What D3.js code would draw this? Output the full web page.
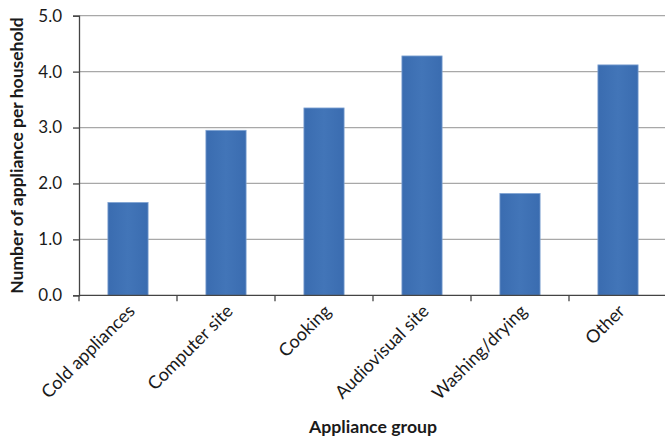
<!DOCTYPE html>
<html>
<head>
<meta charset="utf-8">
<script src="https://cdn.jsdelivr.net/npm/d3@7"></script>
<style>
  html, body { margin: 0; padding: 0; background: #fff; }
  svg { display: block; }
  text { font-family: Lato, "Open Sans", sans-serif; fill: #1a1a1a; }
</style>
</head>
<body>
<svg id="chart" width="665" height="439"></svg>
<script>
// Appliance ownership per household, by appliance group
const categories = ["Cold appliances", "Computer site", "Cooking", "Audiovisual site", "Washing/drying", "Other"];
const values = [1.66, 2.95, 3.35, 4.28, 1.82, 4.12];
const yTicks = [0, 1, 2, 3, 4, 5];

const svg = d3.select("#chart");
const margin = { left: 79 };

const x = d3.scaleBand()
  .domain(categories)
  .range([margin.left, 667])
  .paddingInner(0.59)
  .paddingOuter(0.295);

const y = d3.scaleLinear()
  .domain([0, 5])
  .range([295.3, 15.7]);

// horizontal gridlines
svg.append("g")
  .selectAll("line")
  .data(yTicks.slice(1))
  .join("line")
  .attr("x1", margin.left)
  .attr("x2", 665)
  .attr("y1", d => y(d))
  .attr("y2", d => y(d))
  .attr("stroke", "#a8a8a8")
  .attr("stroke-width", 1.3);

// bars with a soft horizontal shading
const grad = svg.append("defs").append("linearGradient")
  .attr("id", "barFill").attr("x1", "0").attr("x2", "1").attr("y1", "0").attr("y2", "0");
grad.append("stop").attr("offset", "0%").attr("stop-color", "#3a6cb0");
grad.append("stop").attr("offset", "50%").attr("stop-color", "#4275b8");
grad.append("stop").attr("offset", "100%").attr("stop-color", "#3a6cb0");

svg.append("g")
  .selectAll("rect")
  .data(values)
  .join("rect")
  .attr("x", (d, i) => x(categories[i]))
  .attr("width", x.bandwidth())
  .attr("y", d => y(d))
  .attr("height", d => y(0) - y(d))
  .attr("fill", "url(#barFill)")
  .attr("stroke", "#7fa3d3")
  .attr("stroke-width", 0.8);

// y axis
const yAxis = svg.append("g")
  .attr("transform", `translate(${margin.left},0)`)
  .call(d3.axisLeft(y).tickValues(yTicks).tickFormat(d3.format(".1f")).tickSize(6).tickPadding(11));
yAxis.select(".domain").attr("stroke", "#444").attr("stroke-width", 1.3);
yAxis.selectAll(".tick line").attr("stroke", "#444").attr("stroke-width", 1.3);
yAxis.selectAll(".tick text").attr("font-size", 17).attr("fill", "#1a1a1a")
  .style("font-family", "Lato, sans-serif");

// x axis
const xAxis = svg.append("g").attr("transform", `translate(0,${y(0)})`);
xAxis.append("line")
  .attr("x1", margin.left).attr("x2", 665)
  .attr("stroke", "#444").attr("stroke-width", 1.3);
xAxis.selectAll("line.tk")
  .data(d3.range(categories.length))
  .join("line")
  .attr("class", "tk")
  .attr("x1", i => x(categories[i]) - x.step() * x.paddingInner() / 2)
  .attr("x2", i => x(categories[i]) - x.step() * x.paddingInner() / 2)
  .attr("y1", 0).attr("y2", 6)
  .attr("stroke", "#444").attr("stroke-width", 1.3);

xAxis.selectAll("text")
  .data(categories)
  .join("text")
  .attr("text-anchor", "end")
  .attr("font-size", 18)
  .attr("transform", d => `translate(${x(d) + x.bandwidth() / 2 + 8},${17}) rotate(-45)`)
  .text(d => d);

// axis titles
svg.append("text")
  .attr("transform", `translate(23,${(y(0) + y(5)) / 2}) rotate(-90)`)
  .attr("text-anchor", "middle")
  .attr("font-size", 17.5)
  .attr("font-weight", "bold")
  .text("Number of appliance per household");

svg.append("text")
  .attr("x", 373)
  .attr("y", 433)
  .attr("text-anchor", "middle")
  .attr("font-size", 17.7)
  .attr("font-weight", "bold")
  .text("Appliance group");
</script>
</body>
</html>
